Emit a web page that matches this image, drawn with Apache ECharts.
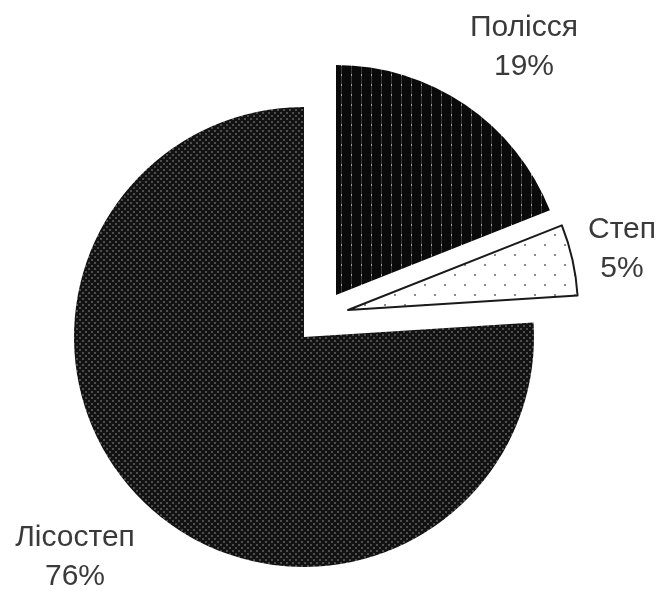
<!DOCTYPE html>
<html>
<head>
<meta charset="utf-8">
<script src="https://cdn.jsdelivr.net/npm/echarts@6/dist/echarts.min.js"></script>
<style>
  html, body { margin: 0; padding: 0; background: #ffffff; }
  #chart { width: 660px; height: 591px; }
</style>
</head>
<body>
<div id="chart"></div>
<script>
// Regions and their shares, %
const regions = ['Полісся', 'Степ', 'Лісостеп'];
const shares = [19, 5, 76];

// Where each slice's own pie is centred (each exploded slice sits on its own centre)
const sliceCenters = [[336, 295], [348, 310], [304, 337]];
// Where each slice's label block is centred
const labelSpots = [[524, 47], [622, 249], [75, 557]];

function makeTile(w, h, draw) {
  const c = document.createElement('canvas');
  c.width = w; c.height = h;
  draw(c.getContext('2d'));
  return c;
}

// Полісся: black with thin dotted vertical lines
const tilePolissia = makeTile(10, 10, g => {
  g.fillStyle = '#0a0a0a'; g.fillRect(0, 0, 10, 10);
  g.fillStyle = '#3c3c3c'; g.fillRect(1, 0, 1, 10);
  g.fillStyle = '#a0a0a0'; g.fillRect(1, 4, 1, 2);
});
// Степ: white with sparse grey dots
const tileStep = makeTile(20, 20, g => {
  g.fillStyle = '#ffffff'; g.fillRect(0, 0, 20, 20);
  g.fillStyle = '#8a8a8a';
  g.fillRect(4, 4, 2, 2);
  g.fillRect(14, 14, 2, 2);
});
// Лісостеп: dense dark halftone dots
const tileLisostep = makeTile(6, 6, g => {
  g.fillStyle = '#121212'; g.fillRect(0, 0, 6, 6);
  g.fillStyle = '#4e4e4e';
  g.fillRect(1, 1, 2, 2);
  g.fillRect(4, 4, 2, 2);
});

const fills = [
  { image: tilePolissia, repeat: 'repeat' },
  { image: tileStep, repeat: 'repeat' },
  { image: tileLisostep, repeat: 'repeat' }
];
const borders = [
  { borderWidth: 0 },
  { borderColor: '#1a1a1a', borderWidth: 2 },
  { borderWidth: 0 }
];

const series = regions.map((name, own) => ({
  type: 'pie',
  silent: true,
  center: sliceCenters[own],
  radius: 230,
  startAngle: 90,
  clockwise: true,
  avoidLabelOverlap: false,
  labelLine: { show: false },
  label: {
    position: 'outside',
    formatter: '{b}\n{d}%',
    fontFamily: 'Liberation Sans, Arial, sans-serif',
    fontSize: 30,
    lineHeight: 39,
    color: '#3a3a3a',
    align: 'center'
  },
  labelLayout: p => p.dataIndex === own
    ? { x: labelSpots[own][0], y: labelSpots[own][1], align: 'center', verticalAlign: 'middle' }
    : {},
  data: regions.map((n, i) => ({
    name: n,
    value: shares[i],
    itemStyle: i === own
      ? Object.assign({ color: fills[i] }, borders[i])
      : { color: 'rgba(0,0,0,0)', borderWidth: 0 },
    label: { show: i === own }
  }))
}));

const chart = echarts.init(document.getElementById('chart'), null, { renderer: 'canvas' });
chart.setOption({
  animation: false,
  backgroundColor: '#ffffff',
  series: series
});
</script>
</body>
</html>
